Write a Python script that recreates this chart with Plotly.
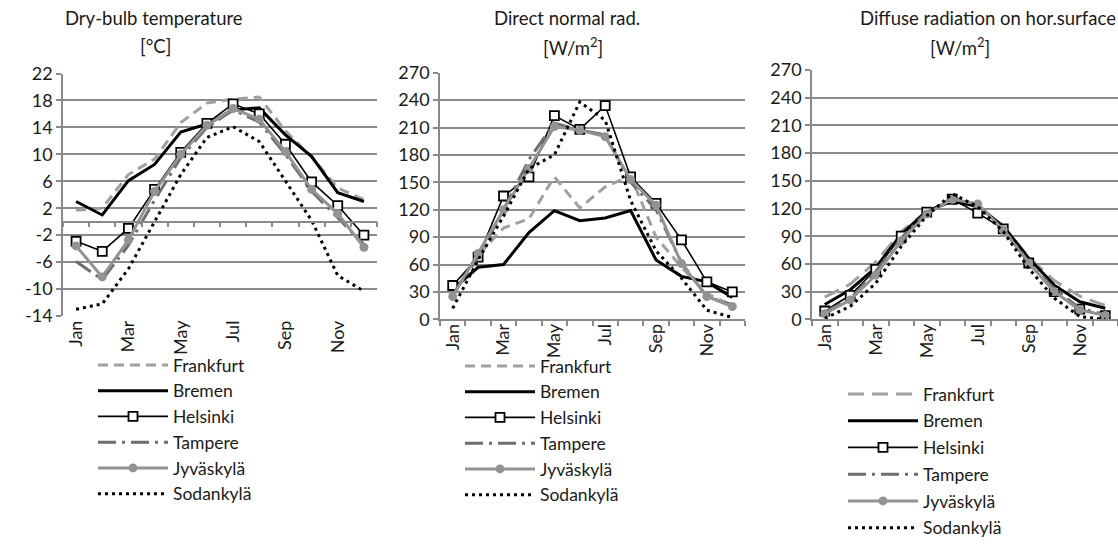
import plotly.graph_objects as go

W, H = 1118, 547

months = ["Jan", "Feb", "Mar", "Apr", "May", "Jun", "Jul", "Aug", "Sep", "Oct", "Nov", "Dec"]
month_idx = list(range(1, 13))
label_months = ["Jan", "Mar", "May", "Jul", "Sep", "Nov"]
label_idx = [1, 3, 5, 7, 9, 11]

cities = ["Frankfurt", "Bremen", "Helsinki", "Tampere", "Jyväskylä", "Sodankylä"]

# Dry-bulb temperature [°C]
temp_frankfurt = [1.7, 2.0, 7.0, 9.3, 14.7, 17.6, 18.2, 18.5, 13.5, 9.6, 5.0, 3.3]
temp_bremen = [3.0, 1.0, 6.1, 8.5, 13.3, 14.5, 16.6, 16.9, 12.9, 9.7, 4.3, 3.0]
temp_helsinki = [-2.9, -4.4, -1.0, 4.8, 10.3, 14.6, 17.5, 16.0, 11.5, 5.9, 2.4, -2.0]
temp_tampere = [-5.9, -8.6, -3.5, 3.2, 9.5, 14.0, 16.6, 14.8, 10.0, 4.5, 0.6, -3.4]
temp_jyvaskyla = [-3.6, -8.2, -2.7, 4.5, 10.0, 14.3, 16.8, 15.2, 10.4, 4.8, 1.2, -3.8]
temp_sodankyla = [-13.0, -12.2, -7.0, 0.0, 7.0, 12.5, 14.1, 11.9, 6.0, 0.2, -8.0, -10.3]

# Direct normal radiation [W/m2]
dnr_frankfurt = [28, 70, 100, 110, 156, 122, 145, 157, 90, 57, 28, 15]
dnr_bremen = [33, 57, 60, 95, 119, 108, 111, 119, 65, 47, 41, 24]
dnr_helsinki = [37, 68, 135, 156, 223, 208, 234, 156, 127, 87, 41, 30]
dnr_tampere = [27, 68, 120, 175, 215, 207, 202, 150, 120, 62, 25, 16]
dnr_jyvaskyla = [25, 72, 120, 165, 211, 207, 200, 153, 125, 61, 25, 14]
dnr_sodankyla = [12, 65, 113, 165, 180, 238, 218, 130, 75, 45, 10, 2]

# Diffuse radiation on horizontal surface [W/m2]
dif_frankfurt = [24, 38, 62, 95, 117, 128, 123, 101, 67, 42, 25, 15]
dif_bremen = [16, 32, 56, 92, 117, 128, 122, 101, 66, 37, 19, 12]
dif_helsinki = [9, 26, 54, 90, 116, 130, 115, 98, 61, 30, 11, 4]
dif_tampere = [8, 22, 52, 88, 116, 131, 124, 98, 62, 33, 12, 5]
dif_jyvaskyla = [6, 21, 48, 85, 114, 130, 125, 97, 61, 30, 10, 4]
dif_sodankyla = [1, 14, 39, 79, 112, 136, 122, 95, 55, 23, 3, 0]

temp_ticks = [-14, -10, -6, -2, 2, 6, 10, 14, 18, 22]
rad_ticks = [0, 30, 60, 90, 120, 150, 180, 210, 240, 270]

FONT = "Lato"
GRID = "#8a8a8a"
TXT = "#1a1a1a"


def px_x(p):
    return p / W


def px_y(p):
    return 1 - p / H


# plot areas in pixels: (left, right, top, bottom)
panels = [
    dict(box=(63, 377, 73.5, 316.0), rng=(-14, 22), ticks=temp_ticks, axis_at=0,
         series=[temp_frankfurt, temp_bremen, temp_helsinki, temp_tampere, temp_jyvaskyla, temp_sodankyla],
         legend_pos=(93, 347), fr_dash="10px,6px", gap=0),
    dict(box=(440, 745, 72.7, 319.3), rng=(0, 270), ticks=rad_ticks, axis_at=None,
         series=[dnr_frankfurt, dnr_bremen, dnr_helsinki, dnr_tampere, dnr_jyvaskyla, dnr_sodankyla],
         legend_pos=(460, 348), fr_dash="10px,6px", gap=0),
    dict(box=(812, 1118, 70.0, 319.3), rng=(0, 270), ticks=rad_ticks, axis_at=None,
         series=[dif_frankfurt, dif_bremen, dif_helsinki, dif_tampere, dif_jyvaskyla, dif_sodankyla],
         legend_pos=(843, 376), fr_dash="16px,8px", gap=1),
]

titles = [
    ("Dry-bulb temperature", "[°C]", 154, 155),
    ("Direct normal rad.", "[W/m<sup>2</sup>]", 567, 573),
    ("Diffuse radiation on hor.surface", "[W/m<sup>2</sup>]", 988, 960),
]

fig = go.Figure()
layout = dict(
    width=W, height=H, margin=dict(l=0, r=0, t=0, b=0),
    paper_bgcolor="white", plot_bgcolor="white",
    font=dict(family=FONT, size=18, color=TXT),
    showlegend=True,
)

for k, p in enumerate(panels):
    n = k + 1
    sfx = "" if n == 1 else str(n)
    xa, ya = f"x{sfx}", f"y{sfx}"
    xo = f"x{n + 3}"
    legend_name = "legend" if n == 1 else f"legend{n}"
    l, r, t, b = p["box"]
    dom_x = [px_x(l), min(px_x(r), 1.0)]
    dom_y = [px_y(b), px_y(t)]
    y0, y1 = p["rng"]

    styles = [
        dict(mode="lines", line=dict(color="#a0a0a0", width=3, dash=p["fr_dash"])),
        dict(mode="lines", line=dict(color="#000000", width=3)),
        dict(mode="lines+markers", line=dict(color="#000000", width=1.6),
             marker=dict(symbol="square", size=9, color="white", line=dict(color="#000000", width=1.8))),
        dict(mode="lines", line=dict(color="#6e6e6e", width=3, dash="18px,6px,3px,6px")),
        dict(mode="lines+markers", line=dict(color="#939393", width=3),
             marker=dict(symbol="circle", size=9, color="#939393")),
        dict(mode="lines", line=dict(color="#000000", width=3, dash="3px,4px")),
    ]
    for j, (city, vals, st) in enumerate(zip(cities, p["series"], styles)):
        fig.add_trace(go.Scatter(x=month_idx, y=vals, name=city, xaxis=xa, yaxis=ya,
                                 legend=legend_name, legendgroup=f"p{n}c{j}",
                                 hoverinfo="skip", **st))
    # carrier trace for the category-boundary tick axis
    fig.add_trace(go.Scatter(x=[1], y=[None], xaxis=xo, yaxis=ya, showlegend=False,
                             hoverinfo="skip", mode="lines"))

    layout[f"xaxis{sfx}"] = dict(
        domain=dom_x, anchor=ya, range=[0.5, 12.5], tickmode="array",
        tickvals=label_idx, ticktext=label_months, tickangle=-90, ticks="",
        showgrid=False, showline=False, zeroline=False, automargin=False,
        tickfont=dict(size=18, color=TXT),
    )
    if p["axis_at"] is not None:
        pos = dom_y[0] + (dom_y[1] - dom_y[0]) * (p["axis_at"] - y0) / (y1 - y0)
        anchor_kw = dict(anchor="free", position=pos)
    else:
        anchor_kw = dict(anchor=ya)
    layout[f"xaxis{n + 3}"] = dict(
        domain=dom_x, overlaying=xa, range=[0.5, 12.5], tickmode="array",
        tickvals=[i + 0.5 for i in range(0, 13)], ticks="outside", ticklen=5,
        tickwidth=1.5, tickcolor=GRID, showticklabels=False, showgrid=False,
        showline=True, linecolor=GRID, linewidth=1.5, zeroline=False, automargin=False,
        **anchor_kw,
    )
    layout[f"yaxis{sfx}"] = dict(
        domain=dom_y, anchor=xa, range=[y0, y1], tickmode="array",
        tickvals=p["ticks"], ticktext=[str(v) for v in p["ticks"]],
        ticks="outside", ticklen=5, tickwidth=1.5, tickcolor=GRID,
        showgrid=True, gridcolor=GRID, gridwidth=1.6,
        showline=True, linecolor=GRID, linewidth=1.6, zeroline=False,
        automargin=False, tickfont=dict(size=18, color=TXT),
    )
    lx, ly = p["legend_pos"]
    layout[legend_name] = dict(
        x=px_x(lx), y=px_y(ly), xanchor="left", yanchor="top",
        bgcolor="rgba(0,0,0,0)", borderwidth=0, itemwidth=70,
        font=dict(family=FONT, size=17.5, color=TXT), traceorder="grouped",
        tracegroupgap=p["gap"], itemclick=False, itemdoubleclick=False,
    )

annotations = []
for (t1, t2, cx1, cx2) in titles:
    annotations.append(dict(text=t1, x=px_x(cx1), y=px_y(18), xref="paper", yref="paper",
                            showarrow=False, xanchor="center", yanchor="middle",
                            font=dict(family=FONT, size=18.5, color=TXT)))
    annotations.append(dict(text=t2, x=px_x(cx2), y=px_y(46), xref="paper", yref="paper",
                            showarrow=False, xanchor="center", yanchor="middle",
                            font=dict(family=FONT, size=18.5, color=TXT)))
layout["annotations"] = annotations

fig.update_layout(**layout)
fig.write_html("out.html")
